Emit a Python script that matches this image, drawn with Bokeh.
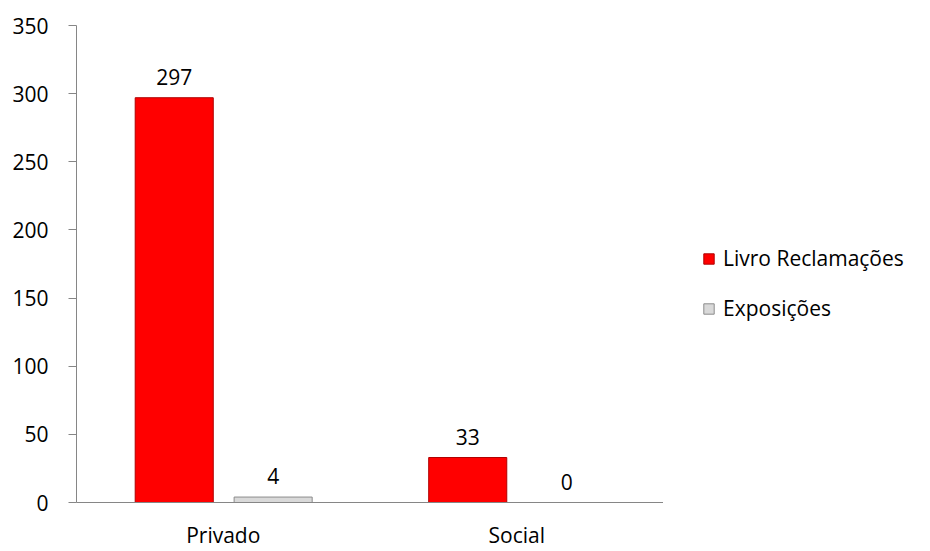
from bokeh.plotting import figure
from bokeh.layouts import row
from bokeh.models import ColumnDataSource, FactorRange, Range1d, Legend, LegendItem, SingleIntervalTicker
from bokeh.transform import dodge
from bokeh.core.properties import value
from bokeh.embed import file_html
from bokeh.resources import INLINE

categories = ["Privado", "Social"]
livro = [297, 33]
exposicoes = [4, 0]
series_names = ["Livro Reclamações", "Exposições"]
colors = ["#FF0000", "#D9D9D9"]
edge_colors = ["#B00000", "#8C8C8C"]

src = ColumnDataSource(dict(
    cat=categories,
    livro=livro,
    expo=exposicoes,
    livro_lbl=[str(v) for v in livro],
    expo_lbl=[str(v) for v in exposicoes],
))

FONT = "Open Sans"
FS = "21px"

p = figure(width=663, height=551, x_range=FactorRange(*categories), y_range=Range1d(0, 350),
           output_backend="svg", toolbar_location=None,
           min_border_left=76, min_border_right=0, min_border_top=25, min_border_bottom=46)
p.x_range.range_padding = 0
p.outline_line_color = None
p.grid.grid_line_color = None
p.background_fill_color = "white"

p.vbar(x=dodge("cat", -0.167, range=p.x_range), top="livro", width=0.266, source=src,
       fill_color=colors[0], line_color=edge_colors[0], line_width=1)
p.vbar(x=dodge("cat", 0.17, range=p.x_range), top="expo", width=0.266, source=src,
       fill_color=colors[1], line_color=edge_colors[1], line_width=1)

p.text(x=dodge("cat", -0.167, range=p.x_range), y="livro", text="livro_lbl", source=src,
       text_align="center", text_baseline="bottom", y_offset=-13,
       text_font=value(FONT), text_font_size=FS, text_color="black")
p.text(x=dodge("cat", 0.17, range=p.x_range), y="expo", text="expo_lbl", source=src,
       text_align="center", text_baseline="bottom", y_offset=-13,
       text_font=value(FONT), text_font_size=FS, text_color="black")

p.yaxis.ticker = SingleIntervalTicker(interval=50)
p.yaxis.minor_tick_line_color = None
p.yaxis.major_tick_out = 8
p.yaxis.major_tick_in = 0
p.yaxis.axis_line_color = "#868686"
p.yaxis.major_tick_line_color = "#868686"
p.yaxis.major_label_text_font = FONT
p.yaxis.major_label_text_font_size = FS
p.yaxis.major_label_text_color = "black"
p.yaxis.major_label_standoff = 20

p.xaxis.axis_line_color = "#868686"
p.xaxis.major_tick_line_color = None
p.xaxis.major_label_text_font = FONT
p.xaxis.major_label_text_font_size = FS
p.xaxis.major_label_text_color = "black"
p.xaxis.major_label_standoff = 12

# legend panel: proxy renderers share the chart's data but sit outside this panel's view
q = figure(width=267, height=551, x_range=Range1d(-3, -2), y_range=Range1d(-3, -2),
           output_backend="svg", toolbar_location=None,
           min_border_left=0, min_border_right=0, min_border_top=0, min_border_bottom=0)
q.axis.visible = False
q.grid.grid_line_color = None
q.outline_line_color = None
lr1 = q.vbar(x=dodge("cat", 0, range=FactorRange(*categories)), top="livro", width=0.1, source=src,
             fill_color=colors[0], line_color=edge_colors[0])
lr2 = q.vbar(x=dodge("cat", 0, range=FactorRange(*categories)), top="expo", width=0.1, source=src,
             fill_color=colors[1], line_color=edge_colors[1])

legend = Legend(items=[LegendItem(label=series_names[0], renderers=[lr1]),
                       LegendItem(label=series_names[1], renderers=[lr2])],
                location=(39, 180), orientation="vertical",
                label_text_font=FONT, label_text_font_size=FS, label_text_color="black",
                glyph_width=13, glyph_height=13, spacing=22, label_standoff=8,
                border_line_color=None, background_fill_alpha=0, padding=4, margin=0)
q.add_layout(legend, "center")

layout = row(p, q)
open("out.html", "w").write(file_html(layout, INLINE))
